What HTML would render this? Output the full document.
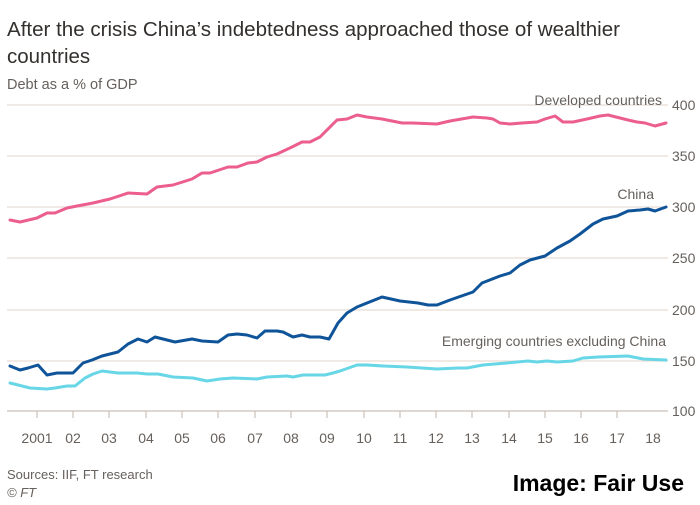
<!DOCTYPE html>
<html><head><meta charset="utf-8"><style>
body{margin:0;background:#fff;width:700px;height:500px;overflow:hidden;font-family:"Liberation Sans",sans-serif}
</style></head><body>
<svg width="700" height="500" xmlns="http://www.w3.org/2000/svg" font-family="Liberation Sans, sans-serif">
<text x="7" y="36" font-size="20.5" fill="#33302e" textLength="613" lengthAdjust="spacingAndGlyphs">After the crisis China’s indebtedness approached those of wealthier</text>
<text x="7" y="63" font-size="20.5" fill="#33302e">countries</text>
<text x="7" y="89" font-size="14.5" fill="#66605c">Debt as a % of GDP</text>
<g stroke="#e6dcd3" stroke-width="1.3">
<line x1="7" x2="668" y1="105" y2="105"/><line x1="7" x2="668" y1="156" y2="156"/><line x1="7" x2="668" y1="207" y2="207"/><line x1="7" x2="668" y1="258" y2="258"/><line x1="7" x2="668" y1="310" y2="310"/><line x1="7" x2="668" y1="361" y2="361"/></g>
<line x1="7" x2="668" y1="411" y2="411" stroke="#ccc1b7" stroke-width="1.3"/>
<g stroke="#ccc1b7" stroke-width="1.2">
<line x1="37" x2="37" y1="411" y2="418"/><line x1="73" x2="73" y1="411" y2="418"/><line x1="109" x2="109" y1="411" y2="418"/><line x1="146" x2="146" y1="411" y2="418"/><line x1="182" x2="182" y1="411" y2="418"/><line x1="218" x2="218" y1="411" y2="418"/><line x1="255" x2="255" y1="411" y2="418"/><line x1="291" x2="291" y1="411" y2="418"/><line x1="327" x2="327" y1="411" y2="418"/><line x1="364" x2="364" y1="411" y2="418"/><line x1="400" x2="400" y1="411" y2="418"/><line x1="436" x2="436" y1="411" y2="418"/><line x1="472" x2="472" y1="411" y2="418"/><line x1="509" x2="509" y1="411" y2="418"/><line x1="545" x2="545" y1="411" y2="418"/><line x1="581" x2="581" y1="411" y2="418"/><line x1="617" x2="617" y1="411" y2="418"/></g>
<g font-size="14" fill="#66605c">
<text x="672" y="110">400</text><text x="672" y="161">350</text><text x="672" y="212">300</text><text x="672" y="263">250</text><text x="672" y="315">200</text><text x="672" y="366">150</text><text x="672" y="416">100</text>
</g>
<g font-size="14" fill="#66605c" text-anchor="middle">
<text x="37" y="443">2001</text><text x="73" y="443">02</text><text x="109" y="443">03</text><text x="146" y="443">04</text><text x="182" y="443">05</text><text x="218" y="443">06</text><text x="255" y="443">07</text><text x="291" y="443">08</text><text x="327" y="443">09</text><text x="364" y="443">10</text><text x="400" y="443">11</text><text x="436" y="443">12</text><text x="472" y="443">13</text><text x="509" y="443">14</text><text x="545" y="443">15</text><text x="581" y="443">16</text><text x="617" y="443">17</text><text x="653" y="443">18</text>
</g>
<g fill="none" stroke-width="3" stroke-linejoin="round" stroke-linecap="round">
<polyline stroke="#eb5e8d" points="10,220 20,222 37,218 47,213 55,213 67,208 77,206 93,203 110,199 128,193 147,194 157,187 173,185 192,179 202,173 210,173 228,167 237,167 248,163 257,162 267,157 277,154 292,147 302,142 310,142 320,137 337,120 347,119 357,115 367,117 382,119 402,123 412,123 437,124 450,121 473,117 487,118 493,119 500,123 510,124 522,123 537,122 545,119 555,116 563,122 573,122 587,119 600,116 608,115 620,118 628,120 637,122 645,123 655,126 666,123"/>
<polyline stroke="#0f5499" points="10,366 20,370 28,368 38,365 47,375 57,373 73,373 83,363 92,360 102,356 110,354 118,352 128,344 138,339 147,342 155,337 163,339 175,342 192,339 202,341 218,342 228,335 237,334 247,335 257,338 265,331 277,331 283,332 293,337 302,335 310,337 320,337 329,339 338,323 347,313 357,307 367,303 382,297 400,301 418,303 428,305 437,305 450,300 473,292 482,283 500,276 510,273 520,265 530,260 545,256 557,248 570,241 580,234 593,224 603,219 617,216 628,211 640,210 648,209 655,211 666,207"/>
<polyline stroke="#67d6e6" points="10,383 30,388 47,389 55,388 67,386 75,386 85,378 93,374 102,371 118,373 137,373 147,374 158,374 173,377 193,378 207,381 220,379 233,378 257,379 267,377 287,376 293,377 303,375 325,375 333,373 340,371 357,365 367,365 383,366 407,367 422,368 437,369 458,368 467,368 483,365 507,363 528,361 537,362 547,361 557,362 573,361 583,358 598,357 628,356 643,359 666,360"/>
</g>
<g font-size="14" fill="#66605c" text-anchor="end">
<text x="662" y="105">Developed countries</text>
<text x="654" y="199">China</text>
<text x="666" y="346">Emerging countries excluding China</text>
</g>
<text x="7" y="479" font-size="13" fill="#66605c">Sources: IIF, FT research</text>
<text x="7" y="497" font-size="13" fill="#66605c" font-style="italic">© FT</text>
<text x="684" y="491" font-size="23" font-weight="bold" fill="#000" text-anchor="end">Image: Fair Use</text>
</svg>
</body></html>
